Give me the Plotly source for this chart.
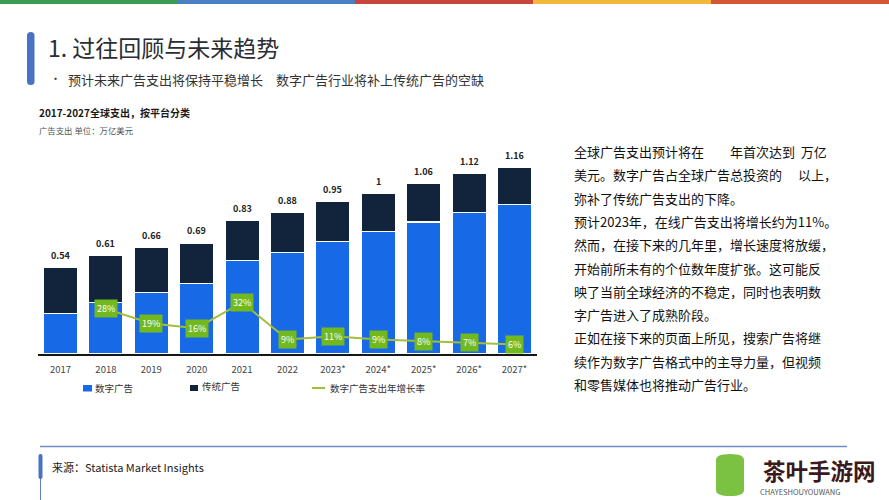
import plotly.graph_objects as go

# ---------------- data ----------------
years = ['2017', '2018', '2019', '2020', '2021', '2022', '2023*', '2024*', '2025*', '2026*', '2027*']
digital = [0.25, 0.32, 0.38, 0.44, 0.58, 0.63, 0.70, 0.76, 0.82, 0.88, 0.93]
traditional = [0.29, 0.29, 0.28, 0.25, 0.25, 0.25, 0.25, 0.24, 0.24, 0.24, 0.23]
totals = [0.54, 0.61, 0.66, 0.69, 0.83, 0.88, 0.95, 1.0, 1.06, 1.12, 1.16]
total_labels = ['0.54', '0.61', '0.66', '0.69', '0.83', '0.88', '0.95', '1', '1.06', '1.12', '1.16']
growth = [None, 28, 19, 16, 32, 9, 11, 9, 8, 7, 6]

series_names = ['数字广告', '传统广告', '数字广告支出年增长率']

title = '1. 过往回顾与未来趋势'
subtitle = '预计未来广告支出将保持平稳增长　数字广告行业将补上传统广告的空缺'
chart_title = '2017-2027全球支出，按平台分类'
chart_unit = '广告支出 单位：万亿美元'
side_lines = [
    '全球广告支出预计将在　　年首次达到  万亿',
    '美元。数字广告占全球广告总投资的　 以上，',
    '弥补了传统广告支出的下降。',
    '预计2023年，在线广告支出将增长约为11%。',
    '然而，在接下来的几年里，增长速度将放缓，',
    '开始前所未有的个位数年度扩张。这可能反',
    '映了当前全球经济的不稳定，同时也表明数',
    '字广告进入了成熟阶段。',
    '正如在接下来的页面上所见，搜索广告将继',
    '续作为数字广告格式中的主导力量，但视频',
    '和零售媒体也将推动广告行业。',
]
source = '来源：Statista Market Insights'

# ---------------- style ----------------
W, H = 889, 500
FONT = 'Noto Sans CJK SC'
BLUE = '#1769e6'
NAVY = '#12243c'
LINE_GREEN = '#a3bd3c'
BOX_GREEN = '#72b81f'
ACCENT = '#4a72c4'


def px(x):
    return x / W


def py(y):
    return 1 - y / H


fig = go.Figure()

fig.add_trace(go.Bar(x=years, y=digital, name=series_names[0], marker=dict(color=BLUE, line=dict(color='white', width=1.2)),
                     showlegend=False, hoverinfo='skip'))
fig.add_trace(go.Bar(x=years, y=traditional, name=series_names[1], marker=dict(color=NAVY, line=dict(color='white', width=1.2)),
                     showlegend=False, hoverinfo='skip'))
fig.add_trace(go.Scatter(x=years, y=growth, yaxis='y2', mode='lines', name=series_names[2],
                         line=dict(color=LINE_GREEN, width=2), connectgaps=False, showlegend=False, hoverinfo='skip'))

annotations = []
# totals on top of bars (category index positions)
for i, (tot, lab) in enumerate(zip(totals, total_labels)):
    annotations.append(dict(x=i, y=tot, xref='x', yref='y', text='<b>' + lab + '</b>', showarrow=False,
                            yshift=12, font=dict(family=FONT, size=9, color='#222222')))
# growth labels
for i, g in enumerate(growth):
    if g is None:
        continue
    annotations.append(dict(x=i, y=g, xref='x', yref='y2', text=f'{g}%', showarrow=False,
                            bgcolor=BOX_GREEN, borderpad=2, font=dict(family=FONT, size=9, color='white')))

# header texts
annotations += [
    dict(x=px(46), y=py(47), xref='paper', yref='paper', xanchor='left', yanchor='middle', showarrow=False,
         text=title, font=dict(family=FONT, size=23, color='#2a2d33')),
    dict(x=px(48), y=py(78), xref='paper', yref='paper', xanchor='left', yanchor='middle', showarrow=False,
         text='•', font=dict(family=FONT, size=11, color='#333333')),
    dict(x=px(66), y=py(79), xref='paper', yref='paper', xanchor='left', yanchor='middle', showarrow=False,
         text=subtitle, font=dict(family=FONT, size=13, color='#333333')),
    dict(x=px(37), y=py(113), xref='paper', yref='paper', xanchor='left', yanchor='middle', showarrow=False,
         text='<b>' + chart_title + '</b>', font=dict(family=FONT, size=10, color='#1a1a1a')),
    dict(x=px(37), y=py(130), xref='paper', yref='paper', xanchor='left', yanchor='middle', showarrow=False,
         text=chart_unit, font=dict(family=FONT, size=8.4, color='#555555')),
    dict(x=px(50), y=py(467), xref='paper', yref='paper', xanchor='left', yanchor='middle', showarrow=False,
         text=source, font=dict(family=FONT, size=11, color='#222222')),
]
# side text
for i, line in enumerate(side_lines):
    annotations.append(dict(x=px(572), y=py(151.5 + 23.3 * i), xref='paper', yref='paper', xanchor='left',
                            yanchor='middle', showarrow=False, text=line,
                            font=dict(family=FONT, size=13, color='#111111')))

# legend texts
legend_items = [(93, 388, series_names[0]), (200, 386, series_names[1]), (328, 388, series_names[2])]
for lx, ly, name in legend_items:
    annotations.append(dict(x=px(lx), y=py(ly), xref='paper', yref='paper', xanchor='left', yanchor='middle',
                            showarrow=False, text=name, font=dict(family=FONT, size=9.5, color='#333333')))

# watermark
annotations += [
    dict(x=px(761), y=py(470), xref='paper', yref='paper', xanchor='left', yanchor='middle', showarrow=False,
         text='<b>茶叶手游网</b>', font=dict(family=FONT, size=22.5, color='#3a1a1c')),
    dict(x=px(758), y=py(491), xref='paper', yref='paper', xanchor='left', yanchor='middle', showarrow=False,
         text='CHAYESHOUYOUWANG', font=dict(family=FONT, size=7.5, color='#555555')),
]

shapes = []
# top colour strip
strip = [('#3d9a55', 0, 177), ('#4a80c2', 177, 355), ('#c8453b', 355, 533), ('#f0b83c', 533, 711), ('#d4573a', 711, 889)]
for col, x0, x1 in strip:
    shapes.append(dict(type='rect', xref='paper', yref='paper', x0=px(x0), x1=px(x1), y0=py(4), y1=py(0),
                       fillcolor=col, line=dict(width=0), layer='above'))


def rounded_bar(x0, x1, y0, y1, r, color=ACCENT):
    pts = (f'M {px(x0)},{py(y0 + r)} Q {px(x0)},{py(y0)} {px((x0 + x1) / 2)},{py(y0)} '
           f'Q {px(x1)},{py(y0)} {px(x1)},{py(y0 + r)} L {px(x1)},{py(y1 - r)} '
           f'Q {px(x1)},{py(y1)} {px((x0 + x1) / 2)},{py(y1)} Q {px(x0)},{py(y1)} {px(x0)},{py(y1 - r)} Z')
    return dict(type='path', xref='paper', yref='paper', path=pts, fillcolor=color, line=dict(width=0))


shapes.append(rounded_bar(27, 34.5, 32, 85, 3.5))
# bottom separator & source accent
shapes.append(dict(type='line', xref='paper', yref='paper', x0=px(40), x1=px(847), y0=py(446.5), y1=py(446.5),
                   line=dict(color='#6f8cc4', width=1.3)))
shapes.append(dict(type='line', xref='paper', yref='paper', x0=px(40.5), x1=px(40.5), y0=py(470), y1=py(500),
                   line=dict(color='#5d7fc2', width=1)))
shapes.append(rounded_bar(38.5, 42.5, 454, 479, 2))
# legend markers
shapes.append(dict(type='rect', xref='paper', yref='paper', x0=px(83), x1=px(92), y0=py(391.5), y1=py(385),
                   fillcolor=BLUE, line=dict(width=0)))
shapes.append(dict(type='rect', xref='paper', yref='paper', x0=px(190), x1=px(198), y0=py(391), y1=py(385),
                   fillcolor=NAVY, line=dict(width=0)))
shapes.append(dict(type='line', xref='paper', yref='paper', x0=px(312), x1=px(325), y0=py(388), y1=py(388),
                   line=dict(color=LINE_GREEN, width=2)))
# watermark icon
shapes.append(rounded_bar(716, 744, 454, 496, 6, color='#7cc242'))

Y_MAX = 1.3
fig.update_layout(
    width=W, height=H,
    margin=dict(l=0, r=0, t=0, b=0),
    paper_bgcolor='white', plot_bgcolor='white',
    barmode='stack', bargap=0.25,
    showlegend=False,
    font=dict(family=FONT),
    xaxis=dict(domain=[px(37.8), px(537.2)], range=[-0.5, 10.5], showline=True, linecolor='#161616', linewidth=2,
               showgrid=False, ticks='', ticklabelstandoff=6, tickfont=dict(family=FONT, size=9.5, color='#444444'),
               fixedrange=True, type='category'),
    yaxis=dict(domain=[py(354), py(354 - 161 * Y_MAX)], range=[0, Y_MAX], visible=False, showgrid=False,
               zeroline=False, fixedrange=True),
    yaxis2=dict(overlaying='y', range=[0, Y_MAX * 100], visible=False, showgrid=False, zeroline=False,
                fixedrange=True),
    annotations=annotations,
    shapes=shapes,
)

fig.write_html('out.html', config={'displayModeBar': False},
               post_script="document.body.style.margin='0';document.body.style.overflow='hidden';")
